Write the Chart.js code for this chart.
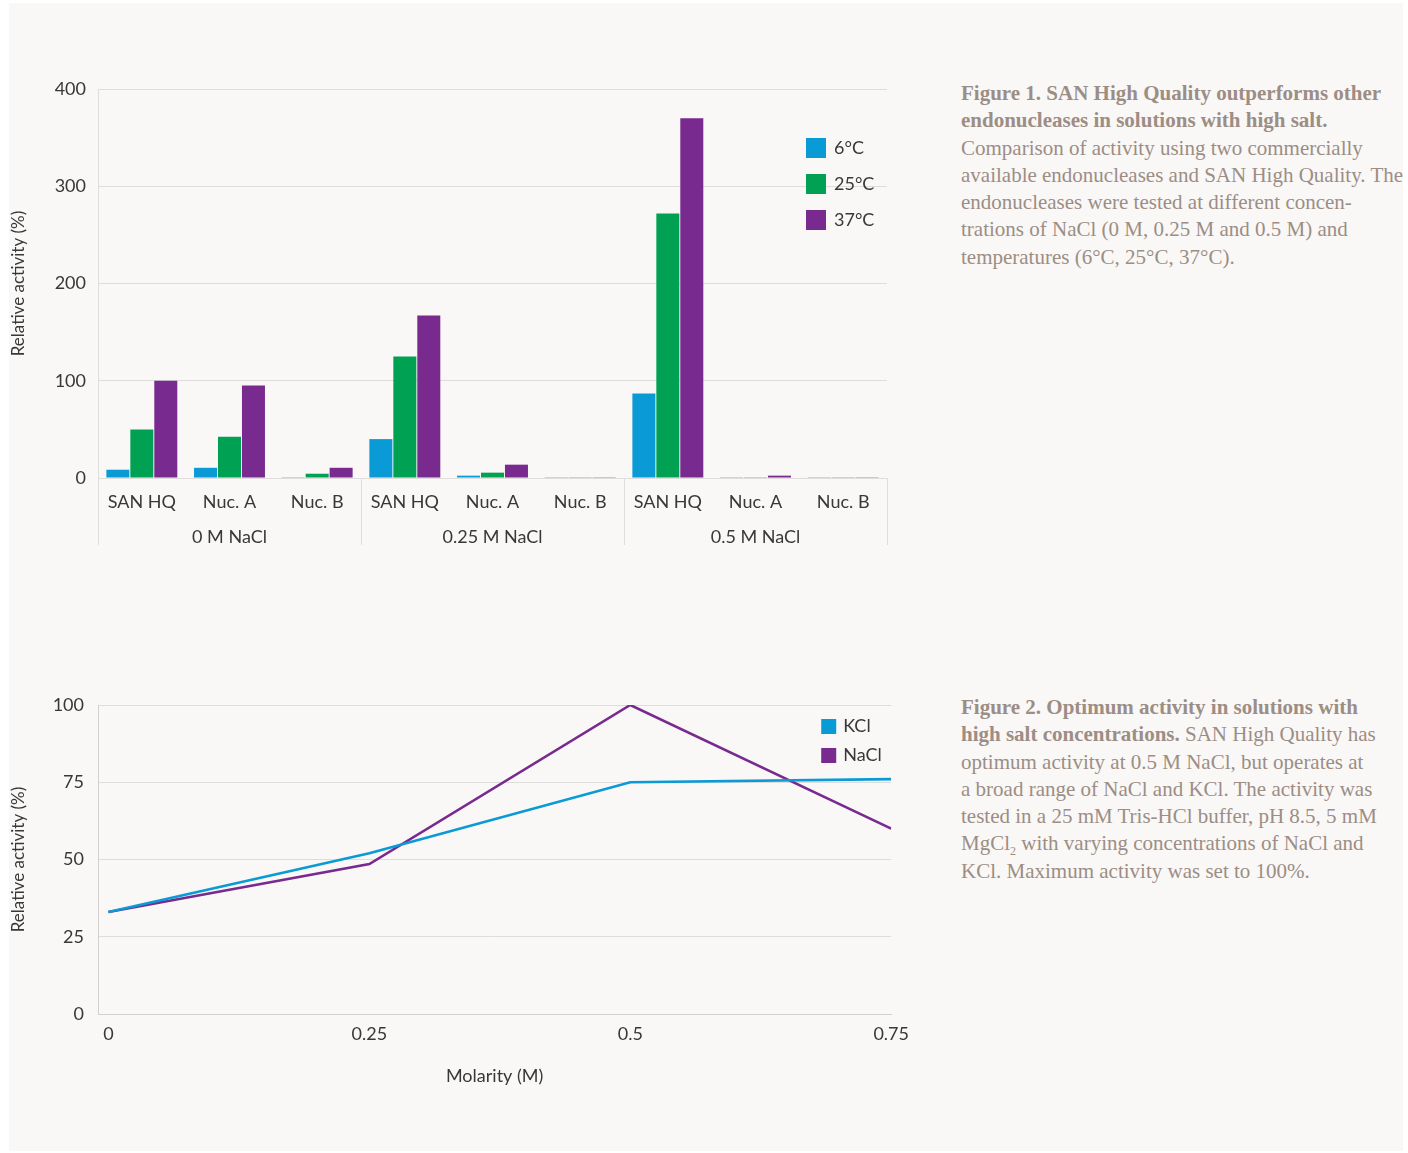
<!DOCTYPE html>
<html>
<head>
<meta charset="utf-8">
<script src="https://cdn.jsdelivr.net/npm/chart.js@4.4.1/dist/chart.umd.min.js"></script>
<style>
  html, body { margin: 0; padding: 0; background: #ffffff; }
  body { width: 1408px; height: 1153px; position: relative; overflow: hidden; }
  .panel { position: absolute; left: 9px; top: 3px; width: 1394px; height: 1148px; background: #f9f8f6; }
  canvas { position: absolute; }
  #bars { left: 0; top: 0; }
  #lines { left: 0; top: 640px; }
  .caption {
    position: absolute; left: 961px;
    font-family: "Liberation Serif", "DejaVu Serif", serif;
    font-size: 21px; line-height: 27.3px; color: #9c8d85; white-space: nowrap;
  }
  .caption sub { font-size: 12px; line-height: 0; }
</style>
</head>
<body>
<div class="panel"></div>
<canvas id="bars" width="900" height="560"></canvas>
<canvas id="lines" width="910" height="460"></canvas>

<div class="caption" style="top:80px">
<b>Figure 1. SAN High Quality outperforms other</b><br>
<b>endonucleases in solutions with high salt.</b><br>
Comparison of activity using two commercially<br>
available endonucleases and SAN High Quality. The<br>
endonucleases were tested at different concen-<br>
trations of NaCl (0 M, 0.25 M and 0.5 M) and<br>
temperatures (6°C, 25°C, 37°C).
</div>

<div class="caption" style="top:694px">
<b>Figure 2. Optimum activity in solutions with</b><br>
<b>high salt concentrations.</b> SAN High Quality has<br>
optimum activity at 0.5 M NaCl, but operates at<br>
a broad range of NaCl and KCl. The activity was<br>
tested in a 25 mM Tris-HCl buffer, pH 8.5, 5 mM<br>
MgCl<sub>2</sub> with varying concentrations of NaCl and<br>
KCl. Maximum activity was set to 100%.
</div>

<script>
// Figure 1 data
const categories = ['SAN HQ', 'Nuc. A', 'Nuc. B', 'SAN HQ', 'Nuc. A', 'Nuc. B', 'SAN HQ', 'Nuc. A', 'Nuc. B'];
const saltGroups = ['0 M NaCl', '0.25 M NaCl', '0.5 M NaCl'];
const temp6 = [8.5, 10.5, 0.8, 40, 2.4, 0.8, 87, 0.8, 0.8];
const temp25 = [50, 42.5, 4.4, 125, 5.5, 0.8, 272, 0.8, 0.8];
const temp37 = [100, 95, 10.5, 167, 13.7, 0.8, 370, 2.4, 0.8];
const barTicks = [0, 100, 200, 300, 400];

// Figure 2 data
const molarity = [0, 0.25, 0.5, 0.75];
const kcl = [33, 52, 75, 76];
const nacl = [33, 48.5, 100, 60];
const lineTicks = [0, 25, 50, 75, 100];

const BLUE = '#0a9ad6';
const GREEN = '#00a152';
const PURPLE = '#782a8e';
const GRID = '#dedddb';
const TEXT = '#383838';
const FONT = 'Lato, "Open Sans", sans-serif';

// little legend drawn inside the plot area
const boxLegend = {
    id: 'boxLegend',
    afterDraw(chart, args, opts) {
        const ctx = chart.ctx;
        const area = chart.chartArea;
        ctx.save();
        ctx.font = '18px ' + FONT;
        ctx.textBaseline = 'middle';
        ctx.textAlign = 'left';
        chart.data.datasets.forEach((ds, i) => {
            const x = area.right + opts.dx;
            const y = area.top + opts.dy + i * opts.step;
            ctx.fillStyle = ds.swatch;
            ctx.fillRect(x, y, opts.box, opts.box);
            ctx.fillStyle = TEXT;
            ctx.fillText(ds.label, x + opts.box + opts.gap, y + opts.box / 2);
        });
        ctx.restore();
    }
};

// separators between the NaCl groups under the x axis
const groupLines = {
    id: 'groupLines',
    afterDraw(chart, args, opts) {
        const sx = chart.scales.x;
        const ctx = chart.ctx;
        const top = chart.chartArea.bottom;
        ctx.save();
        ctx.strokeStyle = GRID;
        ctx.lineWidth = 1;
        for (let i = 0; i <= categories.length; i += 3) {
            const x = Math.round(sx.getPixelForValue(i - 0.5)) + 0.5;
            ctx.beginPath();
            ctx.moveTo(x, top);
            ctx.lineTo(x, top + opts.length);
            ctx.stroke();
        }
        ctx.restore();
    }
};

new Chart(document.getElementById('bars').getContext('2d'), {
    type: 'bar',
    data: {
        labels: categories,
        datasets: [
            { label: '6°C', data: temp6, backgroundColor: BLUE, swatch: BLUE },
            { label: '25°C', data: temp25, backgroundColor: GREEN, swatch: GREEN },
            { label: '37°C', data: temp37, backgroundColor: PURPLE, swatch: PURPLE }
        ]
    },
    plugins: [boxLegend, groupLines],
    options: {
        responsive: false,
        animation: false,
        layout: { padding: { top: 89, right: 13, left: 0, bottom: 0 } },
        datasets: { bar: { categoryPercentage: 0.82, barPercentage: 0.96 } },
        plugins: {
            legend: { display: false },
            tooltip: { enabled: false },
            boxLegend: { dx: -81, dy: 49, step: 36, box: 20, gap: 8 },
            groupLines: { length: 67 }
        },
        scales: {
            x: {
                grid: { display: false },
                border: { display: false },
                ticks: { color: TEXT, font: { family: FONT, size: 18 }, padding: 5, autoSkip: false, maxRotation: 0 },
                afterFit: s => { s.height = 40; }
            },
            groups: {
                type: 'category',
                position: 'bottom',
                weight: 1,
                labels: saltGroups,
                offset: true,
                grid: { display: false, drawTicks: false },
                border: { display: false },
                ticks: { color: TEXT, font: { family: FONT, size: 18 }, padding: 8, autoSkip: false, maxRotation: 0 },
                afterFit: s => { s.height = 42; }
            },
            y: {
                min: 0,
                max: 400,
                afterBuildTicks: axis => { axis.ticks = barTicks.map(v => ({ value: v })); },
                grid: { color: GRID, drawTicks: false },
                border: { display: true, color: GRID },
                ticks: { color: TEXT, font: { family: FONT, size: 18 }, padding: 12 },
                title: {
                    display: true,
                    text: 'Relative activity (%)',
                    color: TEXT,
                    font: { family: FONT, size: 17 },
                    padding: { top: 8, bottom: 0 }
                },
                afterFit: s => { s.width = 98; }
            }
        }
    }
});

new Chart(document.getElementById('lines').getContext('2d'), {
    type: 'line',
    data: {
        datasets: [
            {
                label: 'KCl',
                data: molarity.map((m, i) => ({ x: m, y: kcl[i] })),
                borderColor: BLUE, swatch: BLUE
            },
            {
                label: 'NaCl',
                data: molarity.map((m, i) => ({ x: m, y: nacl[i] })),
                borderColor: PURPLE, swatch: PURPLE
            }
        ]
    },
    plugins: [boxLegend],
    options: {
        responsive: false,
        animation: false,
        layout: { padding: { top: 65, right: 11, left: 0, bottom: 0 } },
        elements: {
            line: { borderWidth: 2.6, tension: 0 },
            point: { radius: 0 }
        },
        plugins: {
            legend: { display: false },
            tooltip: { enabled: false },
            boxLegend: { dx: -70, dy: 14, step: 29, box: 15, gap: 7 }
        },
        scales: {
            x: {
                type: 'linear',
                min: -0.01,
                max: 0.75,
                afterBuildTicks: axis => { axis.ticks = molarity.map(v => ({ value: v })); },
                grid: { display: false },
                border: { display: true, color: '#d2d1cf' },
                ticks: { color: TEXT, font: { family: FONT, size: 18 }, padding: 1, callback: v => String(v) },
                title: {
                    display: true,
                    text: 'Molarity (M)',
                    color: TEXT,
                    font: { family: FONT, size: 18 },
                    padding: { top: 0, bottom: 13 }
                },
                afterFit: s => { s.height = 86; }
            },
            y: {
                min: 0,
                max: 100,
                afterBuildTicks: axis => { axis.ticks = lineTicks.map(v => ({ value: v })); },
                grid: { color: GRID, drawTicks: false },
                border: { display: true, color: '#d2d1cf' },
                ticks: { color: TEXT, font: { family: FONT, size: 18 }, padding: 14 },
                title: {
                    display: true,
                    text: 'Relative activity (%)',
                    color: TEXT,
                    font: { family: FONT, size: 17 },
                    padding: { top: 8, bottom: 0 }
                },
                afterFit: s => { s.width = 98; }
            }
        }
    }
});
</script>
</body>
</html>
